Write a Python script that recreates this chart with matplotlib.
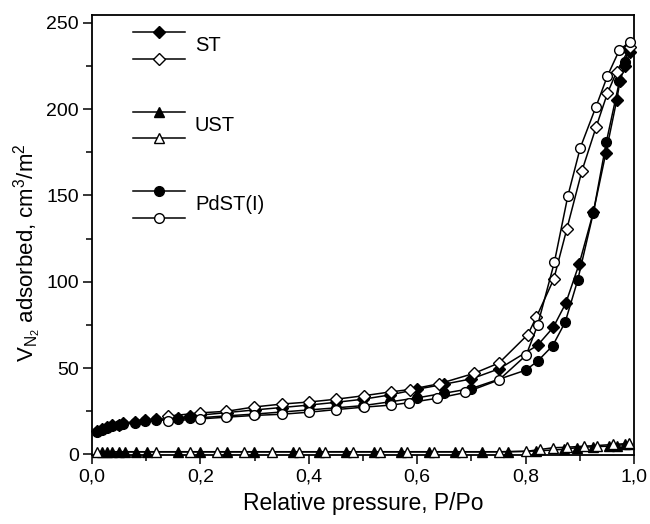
import matplotlib
matplotlib.use("Agg")
import matplotlib.pyplot as plt
from matplotlib.ticker import MultipleLocator, FuncFormatter
from matplotlib.lines import Line2D

plt.rcParams['font.family'] = ['Liberation Sans', 'DejaVu Sans']
plt.rcParams['mathtext.fontset'] = 'custom'
plt.rcParams['mathtext.rm'] = 'Liberation Sans'
plt.rcParams['mathtext.it'] = 'Liberation Sans:italic'
plt.rcParams['mathtext.bf'] = 'Liberation Sans:bold'

# ---- data ----
st_ads_x = [0.010, 0.018, 0.027, 0.036, 0.049, 0.058, 0.079, 0.098, 0.119, 0.159, 0.181,
            0.20, 0.25, 0.30, 0.35, 0.40, 0.45, 0.50, 0.55, 0.60, 0.65, 0.70, 0.751,
            0.822, 0.851, 0.874, 0.899, 0.925, 0.948, 0.968, 0.974, 0.983, 0.993]
st_ads_y = [13.5, 15.0, 16.0, 16.8, 17.3, 18.0, 19.0, 19.8, 20.3, 21.2, 22.0,
            22.8, 24.3, 25.8, 27.2, 28.6, 30.2, 32.0, 34.5, 37.8, 40.7, 43.8, 49.6,
            63.2, 73.6, 87.5, 110.5, 140.3, 174.5, 205.0, 216.0, 225.0, 233.3]

st_des_x = [0.993, 0.968, 0.951, 0.930, 0.904, 0.876, 0.852, 0.820, 0.804, 0.751, 0.705,
            0.641, 0.586, 0.552, 0.501, 0.450, 0.401, 0.350, 0.299, 0.248, 0.199, 0.140]
st_des_y = [236.0, 221.7, 209.2, 189.5, 164.3, 130.5, 101.6, 79.6, 69.4, 53.0, 47.0,
            41.0, 37.6, 36.3, 34.0, 32.0, 30.4, 29.2, 27.5, 25.0, 24.1, 22.2]

ust_ads_x = [0.019, 0.028, 0.036, 0.050, 0.061, 0.081, 0.101, 0.159, 0.199, 0.250, 0.299,
             0.370, 0.419, 0.469, 0.520, 0.570, 0.621, 0.670, 0.719, 0.768, 0.820, 0.870,
             0.894, 0.925, 0.953, 0.968, 0.983, 0.990]
ust_ads_y = [1.5, 1.5, 1.5, 1.5, 1.5, 1.5, 1.5, 1.5, 1.5, 1.5, 1.5,
             1.5, 1.5, 1.5, 1.5, 1.5, 1.5, 1.5, 1.5, 1.6, 2.0, 3.0,
             3.9, 4.5, 4.8, 5.2, 5.8, 6.0]

ust_des_x = [0.990, 0.962, 0.932, 0.907, 0.876, 0.851, 0.827, 0.801, 0.751, 0.682, 0.631,
             0.582, 0.531, 0.481, 0.430, 0.381, 0.332, 0.280, 0.230, 0.181, 0.119, 0.009]
ust_des_y = [6.4, 5.8, 5.2, 4.8, 4.2, 3.9, 2.9, 1.8, 1.6, 1.6, 1.6,
             1.6, 1.6, 1.6, 1.6, 1.6, 1.6, 1.6, 1.6, 1.6, 1.6, 1.6]

pd_ads_x = [0.010, 0.018, 0.027, 0.036, 0.049, 0.058, 0.079, 0.098, 0.119, 0.159, 0.181,
            0.20, 0.25, 0.30, 0.35, 0.40, 0.45, 0.50, 0.55, 0.60, 0.65, 0.70,
            0.800, 0.822, 0.850, 0.873, 0.896, 0.925, 0.949, 0.973, 0.983, 0.990]
pd_ads_y = [12.8, 14.3, 15.6, 16.3, 16.9, 17.6, 18.5, 19.2, 19.7, 20.5, 21.0,
            21.3, 22.4, 23.4, 24.6, 25.8, 27.0, 28.3, 30.5, 32.8, 35.5, 38.2,
            48.8, 54.0, 63.0, 76.6, 100.8, 140.0, 181.0, 216.0, 227.0, 235.0]

pd_des_x = [0.992, 0.973, 0.951, 0.930, 0.901, 0.878, 0.853, 0.822, 0.801, 0.751, 0.689,
            0.636, 0.585, 0.552, 0.501, 0.450, 0.401, 0.350, 0.299, 0.248, 0.199, 0.140]
pd_des_y = [238.9, 234.2, 219.2, 201.5, 177.7, 149.8, 111.2, 74.7, 57.5, 43.2, 35.9,
            32.5, 30.0, 28.6, 27.4, 26.0, 24.5, 23.3, 22.6, 21.6, 20.6, 19.3]

legend_labels = ["ST", "UST", "PdST(I)"]
x_ticks = [0.0, 0.2, 0.4, 0.6, 0.8, 1.0]
y_ticks = [0, 50, 100, 150, 200, 250]

# ---- figure ----
fig = plt.figure(figsize=(6.5, 5.24), dpi=100)
ax = fig.add_axes([92/650, 1 - 455/524, (634-92)/650, (455-15)/524])

lw = 1.1
dms, cms, tms = 6.0, 7.0, 7.4

def series(x, y, marker, filled, ms):
    ax.plot(x, y, color='black', lw=lw, marker=marker, ms=ms,
            mfc='black' if filled else 'white', mec='black', mew=1.0,
            clip_on=False, zorder=3)

series(ust_ads_x, ust_ads_y, '^', True, tms)
series(ust_des_x, ust_des_y, '^', False, tms)
series(pd_ads_x, pd_ads_y, 'o', True, cms)
series(st_ads_x, st_ads_y, 'D', True, dms)
series(st_des_x, st_des_y, 'D', False, dms)
series(pd_des_x, pd_des_y, 'o', False, cms)

ax.set_xlim(0, 1.0)
ax.set_ylim(-0.3, 254.5)

ax.set_xticks(x_ticks)
ax.set_yticks(y_ticks)
ax.xaxis.set_minor_locator(MultipleLocator(0.1))
ax.yaxis.set_minor_locator(MultipleLocator(25))
ax.xaxis.set_major_formatter(FuncFormatter(lambda v, p: f"{v:.1f}".replace('.', ',')))
ax.tick_params(axis='both', which='major', direction='out', length=6.5, width=1.1,
               labelsize=14, top=False, right=False, pad=3)
ax.tick_params(axis='both', which='minor', direction='out', length=4, width=1.1,
               top=False, right=False)
for s in ax.spines.values():
    s.set_linewidth(1.3)

ax.set_xlabel("Relative pressure, P/Po", fontsize=16.5, labelpad=5)
ax.set_ylabel(r"V$_{\mathregular{N_2}}$ adsorbed, cm$^{\mathregular{3}}$/m$^{\mathregular{2}}$",
              fontsize=16)
ax.yaxis.set_label_coords(-0.088, (455 - 253) / 440)

# ---- legend (drawn in axes coordinates) ----
def px2ax(px, py):
    return (px - 92) / 542, (455 - py) / 440

rows = [(32, 59, 'D', dms), (112, 138, '^', tms), (191, 218, 'o', cms)]
for (y1, y2, mk, ms), lab in zip(rows, legend_labels):
    for yy, filled in ((y1, True), (y2, False)):
        xa, ya = px2ax(133, yy)
        xb, _ = px2ax(185, yy)
        xm, _ = px2ax(159, yy)
        ax.add_line(Line2D([xa, xb], [ya, ya], color='black', lw=lw, transform=ax.transAxes))
        ax.add_line(Line2D([xm], [ya], marker=mk, ms=ms, mfc='black' if filled else 'white',
                           mec='black', mew=1.0, transform=ax.transAxes))
    xt, yt = px2ax(195, (y1 + y2) / 2)
    ax.text(xt, yt, lab, transform=ax.transAxes, fontsize=14.5, va='center', ha='left')

fig.savefig("out.png", dpi=100)
